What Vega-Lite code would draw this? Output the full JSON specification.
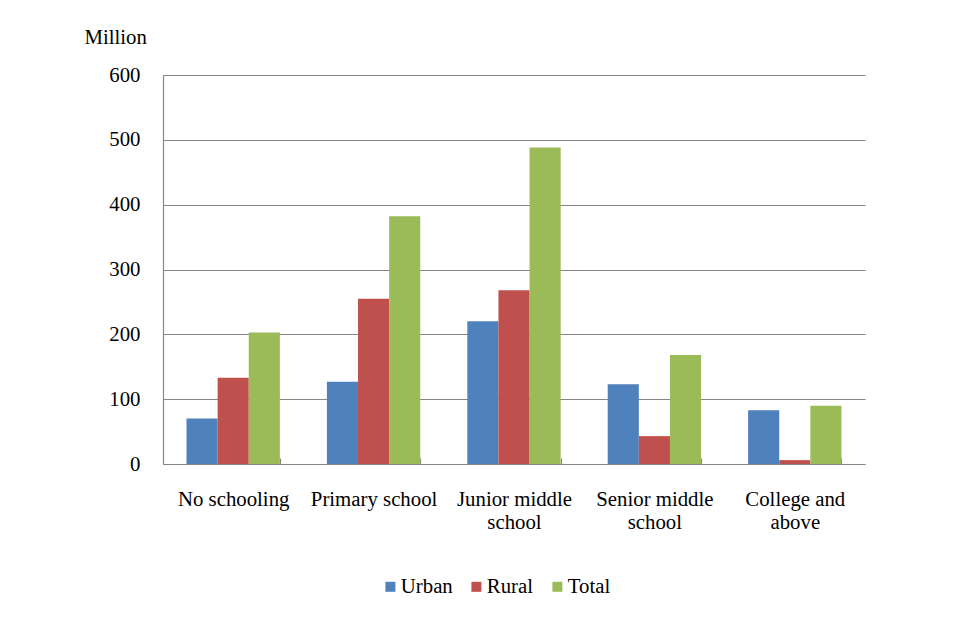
{
  "$schema": "https://vega.github.io/schema/vega-lite/v6.json",
  "width": 702,
  "height": 389,
  "autosize": {"type": "none"},
  "padding": {"left": 163, "top": 75, "right": 89, "bottom": 162},
  "background": "#ffffff",
  "config": {
    "font": "'Liberation Serif', 'Times New Roman', serif",
    "view": {"stroke": null},
    "axis": {
      "labelFont": "'Liberation Serif', 'Times New Roman', serif",
      "titleFont": "'Liberation Serif', 'Times New Roman', serif",
      "labelColor": "#000000",
      "titleColor": "#000000",
      "labelFontSize": 20.8,
      "titleFontSize": 20.8,
      "titleFontWeight": "normal",
      "domainColor": "#868686",
      "gridColor": "#868686",
      "tickColor": "#868686",
      "domainWidth": 1.2,
      "gridWidth": 1.2
    },
    "legend": {
      "labelFont": "'Liberation Serif', 'Times New Roman', serif",
      "labelFontSize": 20.8,
      "labelColor": "#000000"
    }
  },
  "data": {
    "values": [
      {"level": "No schooling", "area": "Urban", "million": 70},
      {"level": "No schooling", "area": "Rural", "million": 133},
      {"level": "No schooling", "area": "Total", "million": 203},
      {"level": "Primary school", "area": "Urban", "million": 127},
      {"level": "Primary school", "area": "Rural", "million": 255},
      {"level": "Primary school", "area": "Total", "million": 382},
      {"level": "Junior middle school", "area": "Urban", "million": 220},
      {"level": "Junior middle school", "area": "Rural", "million": 268},
      {"level": "Junior middle school", "area": "Total", "million": 488},
      {"level": "Senior middle school", "area": "Urban", "million": 123},
      {"level": "Senior middle school", "area": "Rural", "million": 43},
      {"level": "Senior middle school", "area": "Total", "million": 168},
      {"level": "College and above", "area": "Urban", "million": 83},
      {"level": "College and above", "area": "Rural", "million": 6},
      {"level": "College and above", "area": "Total", "million": 90}
    ]
  },
  "mark": {"type": "bar"},
  "encoding": {
    "x": {
      "field": "level",
      "type": "nominal",
      "sort": null,
      "scale": {"paddingInner": 0.335, "paddingOuter": 0.1675},
      "axis": {
        "title": null,
        "labelAngle": 0,
        "labelBaseline": "top",
        "labelPadding": 31,
        "labelLineHeight": 23.5,
        "labelExpr": "datum.value == 'Junior middle school' ? ['Junior middle', 'school'] : datum.value == 'Senior middle school' ? ['Senior middle', 'school'] : datum.value == 'College and above' ? ['College and', 'above'] : datum.value",
        "tickBand": "extent",
        "tickSize": -6,
        "tickWidth": 1.2,
        "ticks": true,
        "grid": false
      }
    },
    "xOffset": {
      "field": "area",
      "type": "nominal",
      "sort": ["Urban", "Rural", "Total"],
      "scale": {"paddingInner": 0, "paddingOuter": 0}
    },
    "y": {
      "field": "million",
      "type": "quantitative",
      "scale": {"domain": [0, 600], "nice": false},
      "axis": {
        "values": [0, 100, 200, 300, 400, 500, 600],
        "title": "Million",
        "titleAngle": 0,
        "titleAlign": "left",
        "titleBaseline": "alphabetic",
        "titleX": -79,
        "titleY": -32,
        "ticks": false,
        "labelPadding": 23,
        "grid": true
      }
    },
    "color": {
      "field": "area",
      "type": "nominal",
      "sort": ["Urban", "Rural", "Total"],
      "scale": {"domain": ["Urban", "Rural", "Total"], "range": ["#4F81BD", "#C0504D", "#9BBB59"]},
      "legend": {
        "title": null,
        "orient": "none",
        "direction": "horizontal",
        "legendX": 217,
        "legendY": 501,
        "symbolType": "square",
        "symbolSize": 100,
        "symbolStrokeWidth": 0,
        "labelOffset": 0,
        "columnPadding": 13
      }
    }
  }
}
